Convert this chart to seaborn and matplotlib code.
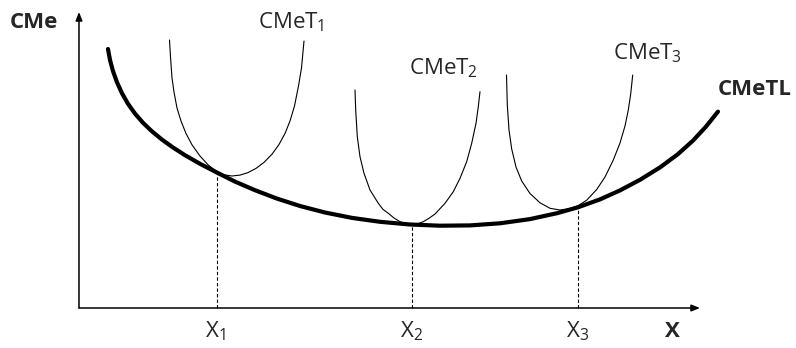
import matplotlib
matplotlib.use("Agg")
import matplotlib.pyplot as plt
import seaborn as sns

# long-run average cost curve (CMeTL): quantity vs average cost
lr_q = [29, 31, 34, 38, 43, 49, 56, 64, 73, 83, 94, 106, 121, 138, 156, 176, 198, 221, 246,
        273, 301, 331, 361, 391, 421, 451, 478, 499, 521, 541, 561, 581, 599, 614, 627, 639]
lr_c = [259.0, 248.0, 236.9, 225.7, 214.7, 204.2, 194.4, 185.2, 176.6, 168.4, 160.5, 152.8, 144.2, 135.4,
        126.4, 117.8, 109.4, 102.0, 95.5, 90.1, 86.2, 83.5, 82.3, 82.6, 84.7, 88.9, 94.8, 100.7,
        108.6, 117.6, 128.2, 140.6, 153.9, 167.4, 181.4, 196.4]

# short-run curves CMeT1, CMeT2, CMeT3
sr1_q = [90.5, 91.5, 93, 95, 98, 102, 107, 113, 121, 129, 137, 145, 153,
         161, 169, 177, 185, 193, 200, 206, 211, 215.5, 219.5, 222.5, 225]
sr1_c = [268, 251, 230, 216, 200, 187, 174.5, 163.2, 152, 143.2, 137, 133.2, 132,
         132.9, 135.4, 139.6, 145.6, 153.8, 163.5, 174.5, 187, 202, 222, 240, 267]

sr2_q = [276, 276.7, 278.3, 281, 285, 291, 299.3, 304, 309.3, 315, 321, 327, 333,
         339, 344.3, 350, 356, 366, 374.3, 381, 387.7, 392.7, 397, 399.3, 401]
sr2_c = [218, 198, 171.3, 151.3, 134.7, 118, 104.7, 98.6, 94.7, 90, 86.3, 84.1, 83.4,
         84.4, 86.3, 89.7, 94, 104.7, 116.3, 129.7, 146.3, 164.7, 184.7, 201.3, 216.3]

sr3_q = [427.5, 428.3, 430, 432.7, 437, 442.7, 451, 461, 471, 481,
         491, 499, 507.7, 517.7, 526, 534.3, 541, 546, 549.3, 551.7, 553.7]
sr3_c = [233, 203, 178, 159, 141, 127, 114.5, 105.2, 99.7, 98,
         99.3, 102.3, 107.8, 118.5, 131, 148, 165, 182, 198, 214, 233]

# tangency outputs X1, X2, X3 and their cost on CMeTL
x_marks = [138, 333, 499]
x_marks_c = [135.4, 83.4, 100.7]
x_names = ["X$_1$", "X$_2$", "X$_3$"]

sns.set_style("white")
plt.rcParams["font.family"] = ["Open Sans", "DejaVu Sans"]
plt.rcParams["mathtext.fontset"] = "custom"
plt.rcParams["mathtext.rm"] = "Open Sans"
plt.rcParams["mathtext.it"] = "Open Sans"

fig = plt.figure(figsize=(7.96, 3.48), dpi=100)
ax = fig.add_axes([0, 0, 1, 1])
ax.set_xlim(-79, 717)
ax.set_ylim(-40, 308)
ax.axis("off")

# axes with arrow heads
arrow = dict(arrowstyle="-|>,head_length=0.5,head_width=0.2", color="black", lw=1.1, shrinkA=0, shrinkB=0)
ax.annotate("", xy=(0, 296), xytext=(0, 0), arrowprops=arrow)
ax.annotate("", xy=(621, 0), xytext=(0, 0), arrowprops=arrow)

# curves
sns.lineplot(x=lr_q, y=lr_c, ax=ax, color="black", lw=3.0, sort=False, estimator=None)
for q, c in [(sr1_q, sr1_c), (sr2_q, sr2_c), (sr3_q, sr3_c)]:
    sns.lineplot(x=q, y=c, ax=ax, color="black", lw=0.8, sort=False, estimator=None)

# dashed drop lines + labels
for xm, cm, name in zip(x_marks, x_marks_c, x_names):
    ax.plot([xm, xm], [0, cm], color="black", lw=0.8, ls=(0, (3, 2)))
    ax.text(xm - 12, -29, name, fontsize=16, ha="left", va="baseline")

ax.text(-69, 280, "CMe", fontsize=16, fontweight="bold", ha="left", va="baseline")
ax.text(586, -29, "X", fontsize=16, fontweight="bold", ha="left", va="baseline")
ax.text(639, 213, "CMeTL", fontsize=16, fontweight="bold", ha="left", va="baseline")
ax.text(179, 280, "CMeT$_1$", fontsize=16, ha="left", va="baseline")
ax.text(330, 234, "CMeT$_2$", fontsize=16, ha="left", va="baseline")
ax.text(534, 249, "CMeT$_3$", fontsize=16, ha="left", va="baseline")

fig.savefig("out.png", dpi=100)
